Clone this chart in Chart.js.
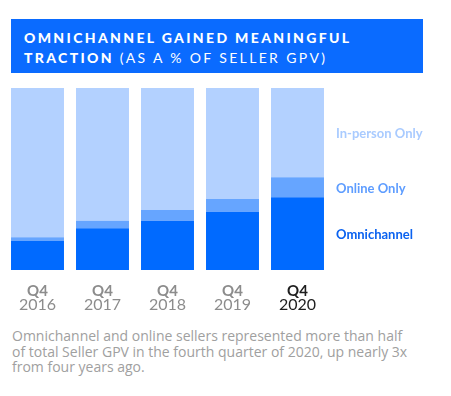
<!DOCTYPE html>
<html>
<head>
<meta charset="utf-8">
<script src="https://cdn.jsdelivr.net/npm/chart.js@4"></script>
<style>
    body { margin: 0; width: 451px; height: 396px; background: #fff; font-family: Lato, sans-serif; position: relative; overflow: hidden; }
    #title { position: absolute; left: 11px; top: 19px; width: 412px; height: 54px; box-sizing: border-box; background: #0A6BFF; padding: 9px 0 0 13px; color: #fff; font-size: 14px; line-height: 20px; letter-spacing: 2.35px; font-weight: 900; }
    #title span { font-weight: 400; }
    #chartBox { position: absolute; left: 0; top: 80px; width: 451px; height: 240px; }
    #caption { position: absolute; left: 12px; top: 328px; width: 405px; font-family: "Open Sans", sans-serif; font-size: 14px; line-height: 15.5px; color: #a0a0a0; }
</style>
</head>
<body>
<div id="title">OMNICHANNEL GAINED MEANINGFUL<br>TRACTION <span>(AS A % OF SELLER GPV)</span></div>
<div id="chartBox"><canvas id="chart"></canvas></div>
<div id="caption">Omnichannel and online sellers represented more than half of total Seller GPV in the fourth quarter of 2020, up nearly 3x from four years ago.</div>
<script>
const quarters = ['Q4', 'Q4', 'Q4', 'Q4', 'Q4'];
const years = ['2016', '2017', '2018', '2019', '2020'];

// share of seller GPV, %
const omnichannel = [16, 23, 27, 32, 40];
const onlineOnly = [2, 4, 6, 7, 11];
const inPersonOnly = [82, 73, 67, 61, 49];

const seriesColors = ['#006AFF', '#66A5FF', '#B3D1FF'];
const labelColors = ['#0A62F0', '#5E9DFF', '#A9CBFF'];

// Draws the two-line year labels and the series names next to the last bar.
const sideLabels = {
    id: 'sideLabels',
    afterDatasetsDraw(chart) {
        const ctx = chart.ctx;
        const x = chart.scales.x;
        const area = chart.chartArea;
        const last = years.length - 1;

        ctx.save();
        ctx.textBaseline = 'middle';
        ctx.textAlign = 'center';
        for (let i = 0; i < years.length; ++i) {
            const px = x.getPixelForValue(i);
            ctx.fillStyle = i == last ? '#1e1e1e' : '#8c8c8c';
            ctx.font = 'bold 15px Lato';
            ctx.fillText(quarters[i], px, area.bottom + 21);
            ctx.font = '16px Lato';
            ctx.fillText(years[i], px, area.bottom + 35);
        }

        ctx.textAlign = 'left';
        ctx.font = 'bold 13px Lato';
        chart.data.datasets.forEach((ds, d) => {
            const bar = chart.getDatasetMeta(d).data[last];
            ctx.fillStyle = labelColors[d];
            ctx.fillText(ds.label, area.right + 6, (bar.y + bar.base) / 2 + 1.5);
        });
        ctx.restore();
    }
};

new Chart(document.getElementById('chart'), {
    type: 'bar',
    data: {
        labels: years,
        datasets: [
            { label: 'Omnichannel', data: omnichannel, backgroundColor: seriesColors[0] },
            { label: 'Online Only', data: onlineOnly, backgroundColor: seriesColors[1] },
            { label: 'In-person Only', data: inPersonOnly, backgroundColor: seriesColors[2] }
        ]
    },
    options: {
        responsive: true,
        maintainAspectRatio: false,
        animation: false,
        layout: { padding: { left: 5, right: 121, top: 8, bottom: 50 } },
        datasets: { bar: { barPercentage: 0.815, categoryPercentage: 1, borderWidth: 0 } },
        plugins: { legend: { display: false }, tooltip: { enabled: false } },
        scales: {
            x: { stacked: true, display: false },
            y: { stacked: true, display: false, min: 0, max: 100 }
        }
    },
    plugins: [sideLabels]
});
</script>
</body>
</html>
